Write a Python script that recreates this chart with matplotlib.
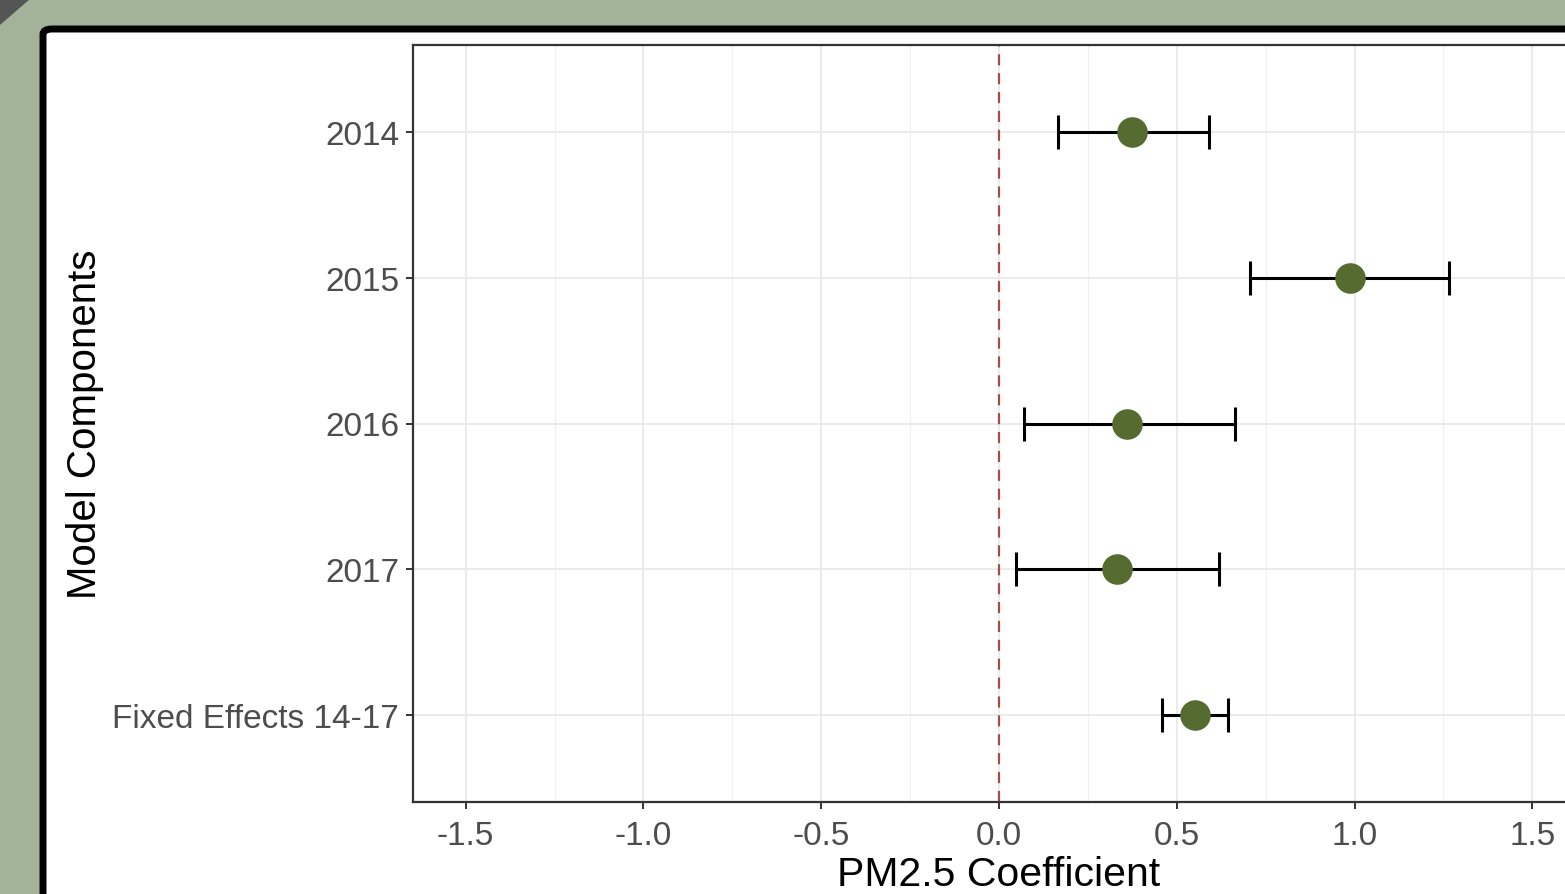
import matplotlib.pyplot as plt
from matplotlib.patches import FancyBboxPatch, Polygon
from matplotlib.ticker import MultipleLocator

plt.rcParams['axes.unicode_minus'] = False

# coefficient estimates with confidence intervals
labels = ['2014', '2015', '2016', '2017', 'Fixed Effects 14-17']
coef = [0.374, 0.987, 0.360, 0.332, 0.551]
lower = [0.166, 0.706, 0.070, 0.048, 0.459]
upper = [0.591, 1.266, 0.664, 0.619, 0.644]

W, H = 1565, 895
fig = plt.figure(figsize=(W / 100, H / 100), dpi=100)
fig.patch.set_facecolor('#a2b39a')

# slide decorations: dark corner and white card with black border
fig.add_artist(Polygon([(0, 1), (30 / W, 1), (0, 1 - 26 / H)], closed=True,
                       transform=fig.transFigure, facecolor='#555555',
                       edgecolor='none', zorder=-2))
fig.add_artist(FancyBboxPatch((43 / W, -0.2), 1.2, 1.2 - 30 / H,
                              boxstyle='round,pad=0,rounding_size=0.006',
                              transform=fig.transFigure, facecolor='white',
                              edgecolor='black', linewidth=5, zorder=-2))

ax = fig.add_axes([413 / W, 1 - 803 / H, 1172 / W, 757 / H])
ax.set_zorder(1)
ax.set_facecolor('white')

y = list(range(1, len(labels) + 1))
xerr = [[c - l for c, l in zip(coef, lower)], [u - c for c, u in zip(coef, upper)]]
ax.errorbar(coef, y, xerr=xerr, fmt='none', ecolor='black', elinewidth=2.2,
            capsize=12, capthick=2.2, zorder=3)
ax.plot(coef, y, 'o', color='#556b2f', markersize=21, zorder=4)
ax.axvline(0, color='#a84a4a', linestyle=(0, (5, 3.5)), linewidth=1.6, zorder=2)

ax.set_xlim(-1.648, 1.648)
ax.set_ylim(5.6, 0.4)
ax.set_yticks(y)
ax.set_yticklabels(labels)
ax.xaxis.set_major_locator(MultipleLocator(0.5))
ax.xaxis.set_minor_locator(MultipleLocator(0.25))
ax.set_xticklabels([], minor=True)

ax.grid(True, which='major', color='#ebebeb', linewidth=1.4, zorder=0)
ax.grid(True, which='minor', axis='x', color='#f0f0f0', linewidth=0.9, zorder=0)
ax.set_axisbelow(True)

for s in ax.spines.values():
    s.set_color('#333333')
    s.set_linewidth(1.6)

ax.tick_params(which='major', length=5, width=1.4, color='#333333',
               labelcolor='#4d4d4d', labelsize=24)
ax.tick_params(axis='y', pad=5)
ax.tick_params(axis='x', pad=8)
ax.tick_params(which='minor', length=0)
for t in ax.get_xticklabels() + ax.get_yticklabels():
    t.set_fontfamily('Liberation Sans')

ax.set_xlabel('PM2.5 Coefficient', fontsize=29.5, fontfamily='Liberation Sans',
              labelpad=3)
ax.set_ylabel('Model Components', fontsize=29, fontfamily='Liberation Sans',
              labelpad=6)

fig.savefig('out.png', dpi=100, facecolor=fig.get_facecolor())
